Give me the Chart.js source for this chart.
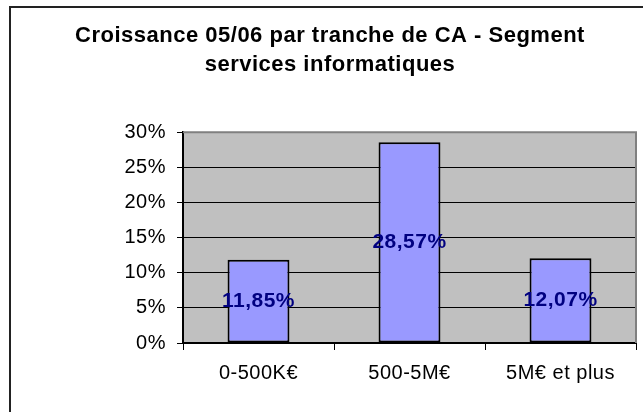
<!DOCTYPE html>
<html>
<head>
<meta charset="utf-8">
<script src="https://cdn.jsdelivr.net/npm/chart.js@4/dist/chart.umd.min.js"></script>
<style>
  html, body { margin: 0; padding: 0; background: #fff; }
  #wrap { width: 643px; height: 412px; }
</style>
</head>
<body>
<div id="wrap"><canvas id="barChart" width="643" height="412"></canvas></div>
<script>
// data
const categories = ["0-500K€", "500-5M€", "5M€ et plus"];
const growth = [0.1185, 0.2857, 0.1207];
const yTicks = [0, 0.05, 0.10, 0.15, 0.20, 0.25, 0.30];
const titleLines = ["Croissance 05/06 par tranche de CA - Segment", "services informatiques"];

const FONT = "'Liberation Sans', Arial, sans-serif";

const pct = v => Math.round(v * 100) + "%";
const pctLabel = v => (v * 100).toFixed(2).replace(".", ",") + "%";

// white page, outer frame and grey plot background
const frame = {
  id: "frame",
  beforeDraw(chart) {
    const ctx = chart.ctx, a = chart.chartArea;
    ctx.save();
    ctx.fillStyle = "#fff";
    ctx.fillRect(0, 0, chart.width, chart.height);
    ctx.strokeStyle = "#222";
    ctx.lineWidth = 2;
    ctx.strokeRect(10, 7, 700, 500);
    ctx.fillStyle = "#c0c0c0";
    ctx.fillRect(a.left, a.top, a.right - a.left, a.bottom - a.top);
    ctx.restore();
    // the original text is a bit spread out
    ctx.letterSpacing = "0.5px";
  },
  afterDatasetsDraw(chart) {
    const ctx = chart.ctx, a = chart.chartArea;
    ctx.save();
    ctx.strokeStyle = "#808080";
    ctx.lineWidth = 2;
    ctx.beginPath();
    ctx.moveTo(a.left, a.top);
    ctx.lineTo(a.right, a.top);
    ctx.lineTo(a.right, a.bottom);
    ctx.stroke();
    // values inside the bars
    ctx.fillStyle = "#000080";
    ctx.font = "bold 21px " + FONT;
    ctx.textAlign = "center";
    ctx.textBaseline = "middle";
    chart.getDatasetMeta(0).data.forEach((bar, i) => {
      ctx.fillText(pctLabel(growth[i]), bar.x, (bar.y + bar.base) / 2);
    });
    ctx.restore();
  }
};

new Chart(document.getElementById("barChart"), {
  type: "bar",
  data: {
    labels: categories,
    datasets: [{
      data: growth,
      backgroundColor: "#9999ff",
      borderColor: "#000",
      borderWidth: 2,
      borderSkipped: false,
      categoryPercentage: 1,
      barPercentage: 0.41
    }]
  },
  options: {
    responsive: false,
    animation: false,
    devicePixelRatio: 1,
    layout: { padding: { left: 24, right: 7, top: 0, bottom: 0 } },
    plugins: {
      legend: { display: false },
      tooltip: { enabled: false },
      title: {
        display: true,
        text: titleLines,
        color: "#000",
        font: { family: FONT, size: 22, weight: "bold", lineHeight: 1.3 },
        padding: { top: 22, bottom: 53 }
      }
    },
    scales: {
      x: {
        grid: { display: true, drawOnChartArea: false, drawTicks: true, tickLength: 7, color: "#000", offset: true },
        border: { color: "#000", width: 2 },
        ticks: { color: "#000", font: { family: FONT, size: 20 }, padding: 11, maxRotation: 0 },
        afterFit(scale) { scale.height = 69; }
      },
      y: {
        min: 0,
        max: 0.3,
        afterBuildTicks(scale) { scale.ticks = yTicks.map(v => ({ value: v })); },
        grid: { color: "#000", lineWidth: 1, tickLength: 6 },
        border: { color: "#000", width: 2 },
        ticks: { color: "#000", font: { family: FONT, size: 20 }, padding: 11, callback: v => pct(v) },
        afterFit(scale) { scale.width = 159; }
      }
    }
  },
  plugins: [frame]
});
</script>
</body>
</html>
